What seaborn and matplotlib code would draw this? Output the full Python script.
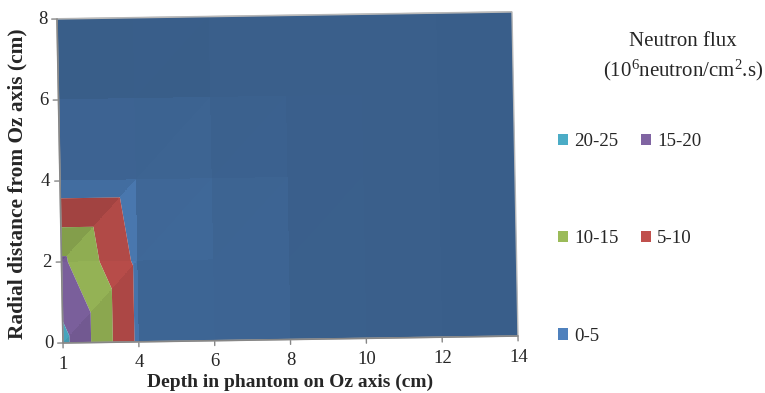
import numpy as np
import matplotlib
matplotlib.use("Agg")
import matplotlib.pyplot as plt
import matplotlib.tri as mtri
from matplotlib.transforms import Affine2D
from matplotlib.patches import Patch
import seaborn as sns

# Depth categories along Oz (cm) and radial positions (cm)
depth_labels = ["1", "4", "6", "8", "10", "12", "14"]
radial_ticks = [0, 2, 4, 6, 8]

# Neutron flux (10^6 n/cm2.s); one row per radial distance, one column per depth
flux_r0 = [21.5, 4.0, 2.4, 0.8, 0.4, 0.2, 0.1]
flux_r2 = [16.0, 4.0, 2.2, 0.7, 0.35, 0.2, 0.1]
flux_r4 = [2.0, 2.0, 1.2, 0.5, 0.3, 0.15, 0.1]
flux_r6 = [0.3, 0.3, 0.4, 0.3, 0.2, 0.1, 0.05]
flux_r8 = [0.5, 0.4, 0.3, 0.2, 0.1, 0.05, 0.05]

band_edges = [0, 5, 10, 15, 20, 25]
band_labels = ["0-5", "5-10", "10-15", "15-20", "20-25"]
band_colors = ["#4F81BD", "#C0504D", "#9BBB59", "#8064A2", "#4BACC6"]

sns.set_theme(style="white")
plt.rcParams["font.family"] = ["Liberation Serif", "DejaVu Serif"]
plt.rcParams["mathtext.fontset"] = "custom"
plt.rcParams["mathtext.rm"] = "Liberation Serif"
plt.rcParams["mathtext.it"] = "Liberation Serif"

fig = plt.figure(figsize=(7.65, 3.93), dpi=100)
ax = fig.add_axes([0, 0, 1, 1])
ax.set_xlim(0, 765)
ax.set_ylim(393, 0)
ax.axis("off")

# Oblique projection of the (depth index, radius) floor onto the canvas
surf = Affine2D.from_values(75.83, -1.1667, -0.75, -40.5, 63, 343) + ax.transData

grid = np.array([flux_r0, flux_r2, flux_r4, flux_r6, flux_r8])
nr, nx = grid.shape
xi, rr = np.meshgrid(np.arange(nx), np.array(radial_ticks, dtype=float))
px, py, pz = xi.ravel(), rr.ravel(), grid.ravel()

tris = []
for j in range(nr - 1):
    for i in range(nx - 1):
        a = j * nx + i
        b = a + 1
        c = a + nx + 1
        d = a + nx
        tris.append([a, b, c])
        tris.append([a, c, d])
tris = np.array(tris)
tri = mtri.Triangulation(px, py, tris)

ax.tricontourf(tri, pz, levels=band_edges, colors=band_colors,
               transform=surf, antialiased=True)

# Facet lighting: each triangle of the surface is darkened by its orientation
zs = 0.1
P = np.column_stack([px, py / 2.0, pz * zs])
v1 = P[tris[:, 1]] - P[tris[:, 0]]
v2 = P[tris[:, 2]] - P[tris[:, 0]]
nrm = np.cross(v1, v2)
nrm[nrm[:, 2] < 0] *= -1
nrm /= np.linalg.norm(nrm, axis=1)[:, None]
light = np.array([0.75, 0.6, 0.5])
light /= np.linalg.norm(light)
dot = nrm @ light
shade = np.clip(0.73 + 0.45 * (dot - light[2]), 0.6, 1.0)

# Shade raster sampled on the floor plane, seamless across triangle edges
gx = np.linspace(0, nx - 1, 901)
gy = np.linspace(0, radial_ticks[-1], 801)
cx = 0.5 * (gx[:-1] + gx[1:])
cy = 0.5 * (gy[:-1] + gy[1:])
CX, CY = np.meshgrid(cx, cy)
idx = tri.get_trifinder()(CX, CY)
alpha = np.where(idx >= 0, 1 - shade[np.clip(idx, 0, None)], 0.0)
shade_img = np.zeros(CX.shape + (4,))
shade_img[..., 3] = alpha
ax.imshow(shade_img, extent=(0, nx - 1, 0, radial_ticks[-1]), origin="lower",
          transform=surf, interpolation="nearest", aspect="auto", zorder=2)
ax.set_xlim(0, 765)
ax.set_ylim(393, 0)

# Frame and axes
axis_grey = "#868686"
ax.plot([0, nx - 1, nx - 1, 0, 0], [0, 0, 8, 8, 0], color="#b8b8b8", lw=1,
        transform=surf, zorder=3)
ax.plot([0, nx - 1], [0, 0], color=axis_grey, lw=1.2, transform=surf, zorder=3)
ax.plot([0, 0], [0, 8], color=axis_grey, lw=1.2, transform=surf, zorder=3)
for k, lab in enumerate(depth_labels):
    ax.plot([k, k], [0, -0.12], color=axis_grey, lw=1, transform=surf)
    ax.text(k, -0.52, lab, transform=surf, ha="center", va="center", fontsize=13.5)
for r in radial_ticks:
    ax.plot([0, -0.07], [r, r], color=axis_grey, lw=1, transform=surf)
    ax.text(-0.19, r, str(r), transform=surf, ha="center", va="center", fontsize=13.5)

ax.text(290, 382, "Depth in phantom on Oz axis (cm)", ha="center", va="center",
        fontsize=14, fontweight="bold")
ax.text(17, 184, "Radial distance from Oz axis (cm)", ha="center", va="center",
        fontsize=15.4, fontweight="bold", rotation=90)

# Legend
ax.text(683, 42, "Neutron flux", ha="center", va="center", fontsize=15)
ax.text(683, 70, r"(10$^{6}$neutron/cm$^{2}$.s)", ha="center", va="center", fontsize=15)
order = [4, 2, 0, 3, 1]
handles = [Patch(facecolor=band_colors[k], edgecolor="none") for k in order]
labels = [band_labels[k] for k in order]
ax.legend(handles, labels, loc="upper left", bbox_to_anchor=(558, 133),
          bbox_transform=ax.transData, ncol=2, frameon=False, fontsize=13.6,
          handlelength=0.55, handleheight=0.55, handletextpad=0.3,
          columnspacing=1.2, labelspacing=4.25, borderaxespad=0, borderpad=0)

fig.savefig("out.png", dpi=100)
